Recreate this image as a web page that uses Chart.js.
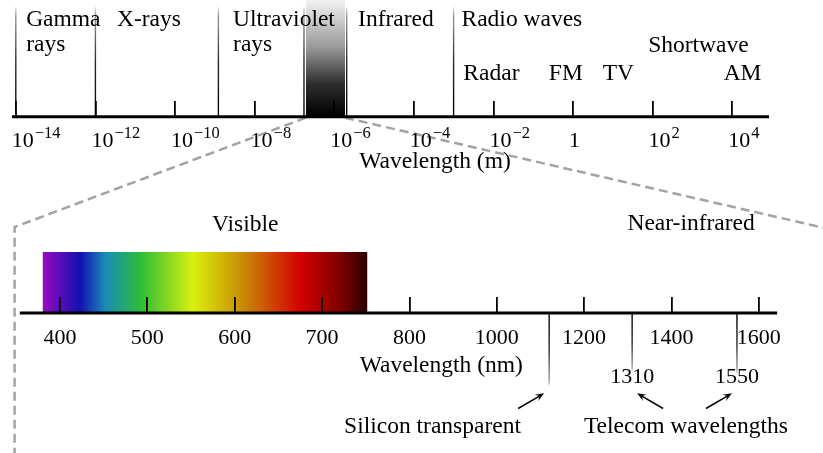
<!DOCTYPE html>
<html>
<head>
<meta charset="utf-8">
<script src="https://cdn.jsdelivr.net/npm/chart.js@4.4.0/dist/chart.umd.min.js"></script>
<style>
  html, body { margin: 0; padding: 0; background: #fff; }
  canvas { display: block; }
</style>
</head>
<body>
<canvas id="spectrum" width="823" height="453"></canvas>
<script>
// --- upper axis: wavelength in metres (log) ---
var topTickExp = [-14, -12, -10, -8, -6, -4, -2, 0, 2, 4];
var topAxisRange = [8.0e-15, 8.4e4];
var regionBounds = [1e-14, 1e-12, 1.23e-9, 1e-3];
var bandEdges = [1.74e-7, 2.06e-6];      // window that is blown up below
var bandFill = [1.95e-7, 1.87e-6];
var regionNames = [["Gamma", "rays"], ["X-rays"], ["Ultraviolet", "rays"], ["Infrared"], ["Radio waves"]];
var regionLabelAt = [1.82e-14, 3.47e-12, 2.88e-9, 3.98e-6, 1.58e-3];
var radioNames = ["Radar", "FM", "TV", "Shortwave", "AM"];
var radioLabelAt = [8.9e-3, 0.66, 13.8, 1413, 1.82e4];

// --- lower axis: wavelength in nm (400-800 step 100, then step 200) ---
var nmTicks = [400, 500, 600, 700, 800, 1000, 1200, 1400, 1600];
var nmAxisRange = [354, 1642];
var spectrumNm = [380, 423, 452, 492, 552, 575, 610, 675, 720, 752];
var spectrumColors = ['#9a0ac0', '#1210b0', '#1a8cb8', '#2cbc38', '#d8f010', '#d4c808', '#c88a08', '#d40000', '#800000', '#2a0000'];
var markerNm = [1120, 1310, 1550];
var markerText = ["", "1310", "1550"];
var zoomCornerNm = [348, 1900];

// layout (pixels on the hidden y scale)
var TOP_Y = 116.7, BOT_Y = 313, LINE_TOP = 6, BAND_TOP = 0, SPEC_TOP = 252;
var markerEnd = [386, 372, 374];
var arrowSide = [-1, 1, -1];
var zoomCornerY = [227, 243];
var FONT = '"Liberation Serif", "DejaVu Serif", serif';
var WORD = 23.5, NUM = 22;

function nmToU(nm) {
  return nm <= 800 ? (nm - 400) / 100 : 4 + (nm - 800) / 200;
}

function ready(chart) {
  return chart.chartArea && chart.scales.y && isFinite(chart.scales.y.getPixelForValue(TOP_Y));
}

function fadeDown(c, yFrom, yTo) {
  var chart = c.chart;
  if (!ready(chart)) return '#000';
  var sy = chart.scales.y;
  var g = chart.ctx.createLinearGradient(0, sy.getPixelForValue(yFrom), 0, sy.getPixelForValue(yTo));
  g.addColorStop(0, '#000');
  g.addColorStop(0.5, '#2a2a2a');
  g.addColorStop(0.85, '#8a8a8a');
  g.addColorStop(1, 'rgba(0,0,0,0)');
  return g;
}

function bandGradient(c) {
  var chart = c.chart;
  if (!ready(chart)) return '#888';
  var sy = chart.scales.y;
  var g = chart.ctx.createLinearGradient(0, sy.getPixelForValue(BAND_TOP), 0, sy.getPixelForValue(TOP_Y));
  g.addColorStop(0, '#f2f2f2');
  g.addColorStop(0.4, '#9a9a9a');
  g.addColorStop(0.72, '#2e2e2e');
  g.addColorStop(1, '#000');
  return g;
}

function spectrumGradient(c) {
  var chart = c.chart, sx = chart.scales.xBot;
  if (!ready(chart) || !sx) return '#888';
  var x0 = sx.getPixelForValue(nmToU(spectrumNm[0]));
  var x1 = sx.getPixelForValue(nmToU(spectrumNm[spectrumNm.length - 1]));
  if (!isFinite(x0) || !isFinite(x1) || x1 === x0) return '#888';
  var g = chart.ctx.createLinearGradient(x0, 0, x1, 0);
  spectrumNm.forEach(function (nm, i) {
    g.addColorStop((sx.getPixelForValue(nmToU(nm)) - x0) / (x1 - x0), spectrumColors[i]);
  });
  return g;
}

var datasets = [];

datasets.push({
  xAxisID: 'xTop', yAxisID: 'y', order: 9,
  data: [{x: bandFill[0], y: BAND_TOP}, {x: bandFill[1], y: BAND_TOP}],
  showLine: true, pointRadius: 0, borderWidth: 1, borderColor: 'rgba(0,0,0,0)',
  fill: {value: TOP_Y}, backgroundColor: bandGradient
});

datasets.push({
  xAxisID: 'xBot', yAxisID: 'y', order: 9,
  data: [{x: nmToU(spectrumNm[0]), y: SPEC_TOP}, {x: nmToU(spectrumNm[spectrumNm.length - 1]), y: SPEC_TOP}],
  showLine: true, pointRadius: 0, borderWidth: 1, borderColor: 'rgba(0,0,0,0)',
  fill: {value: BOT_Y}, backgroundColor: spectrumGradient
});

regionBounds.concat(bandEdges).forEach(function (v) {
  datasets.push({
    xAxisID: 'xTop', yAxisID: 'y', order: 3,
    data: [{x: v, y: TOP_Y}, {x: v, y: LINE_TOP}],
    showLine: true, pointRadius: 0, borderWidth: 1.4,
    borderColor: function (c) { return fadeDown(c, TOP_Y, LINE_TOP); }
  });
});

markerNm.forEach(function (nm, i) {
  datasets.push({
    xAxisID: 'xBot', yAxisID: 'y', order: 3,
    data: [{x: nmToU(nm), y: BOT_Y}, {x: nmToU(nm), y: markerEnd[i]}],
    showLine: true, pointRadius: 0, borderWidth: 1.4,
    borderColor: function (c) { return fadeDown(c, BOT_Y, markerEnd[i]); }
  });
});

datasets.push({
  xAxisID: 'xTop', yAxisID: 'y', order: 0,
  data: [{x: topAxisRange[0], y: TOP_Y}, {x: topAxisRange[1], y: TOP_Y}],
  showLine: true, pointRadius: 0, borderWidth: 3, borderColor: '#000'
});
datasets.push({
  xAxisID: 'xBot', yAxisID: 'y', order: 0,
  data: [{x: nmToU(nmAxisRange[0]), y: BOT_Y}, {x: nmToU(nmAxisRange[1]), y: BOT_Y}],
  showLine: true, pointRadius: 0, borderWidth: 3, borderColor: '#000'
});

function text(ctx, s, x, y, size, align) {
  ctx.font = size + 'px ' + FONT;
  ctx.textAlign = align || 'center';
  ctx.textBaseline = 'alphabetic';
  ctx.fillText(s, x, y);
}

function powerLabel(ctx, e, x, y) {
  ctx.fillStyle = '#000';
  if (e === 0) { text(ctx, '1', x, y, NUM, 'left'); return; }
  text(ctx, '10', x, y, NUM, 'left');
  var w = ctx.measureText('10').width;
  var exp = e < 0 ? '\u2212' + Math.abs(e) : String(e);
  text(ctx, exp, x + w + 1, y - 8.4, 16.5, 'left');
}

function arrow(ctx, x1, y1, x2, y2) {
  var a = Math.atan2(y2 - y1, x2 - x1), L = 9, W = 3.6;
  ctx.beginPath();
  ctx.moveTo(x1, y1);
  ctx.lineTo(x2 - Math.cos(a) * 5, y2 - Math.sin(a) * 5);
  ctx.lineWidth = 1.5;
  ctx.strokeStyle = '#000';
  ctx.stroke();
  ctx.beginPath();
  ctx.moveTo(x2, y2);
  ctx.lineTo(x2 - L * Math.cos(a) + W * Math.sin(a), y2 - L * Math.sin(a) - W * Math.cos(a));
  ctx.lineTo(x2 - 0.6 * L * Math.cos(a), y2 - 0.6 * L * Math.sin(a));
  ctx.lineTo(x2 - L * Math.cos(a) - W * Math.sin(a), y2 - L * Math.sin(a) + W * Math.cos(a));
  ctx.closePath();
  ctx.fillStyle = '#000';
  ctx.fill();
}

var annotate = {
  id: 'annotate',
  beforeDatasetsDraw: function (chart) {
    var ctx = chart.ctx, st = chart.scales.xTop, sb = chart.scales.xBot;
    ctx.save();
    ctx.strokeStyle = '#a3a3a3';
    ctx.lineWidth = 2.5;
    ctx.setLineDash([9, 5]);
    [0, 1].forEach(function (i) {
      var cx = sb.getPixelForValue(nmToU(zoomCornerNm[i]));
      ctx.beginPath();
      ctx.moveTo(st.getPixelForValue(bandFill[i]), TOP_Y + 1);
      ctx.lineTo(cx, zoomCornerY[i]);
      ctx.lineTo(cx, 470);
      ctx.stroke();
    });
    ctx.restore();
  },
  afterDraw: function (chart) {
    var ctx = chart.ctx, st = chart.scales.xTop, sb = chart.scales.xBot;
    ctx.save();
    ctx.fillStyle = '#000';

    regionNames.forEach(function (lines, i) {
      var x = st.getPixelForValue(regionLabelAt[i]);
      lines.forEach(function (s, k) { text(ctx, s, x, 26 + k * 25, WORD, 'left'); });
    });
    radioNames.forEach(function (s, i) {
      text(ctx, s, st.getPixelForValue(radioLabelAt[i]), s === 'Shortwave' ? 52 : 80, WORD, 'center');
    });

    topTickExp.forEach(function (e) {
      powerLabel(ctx, e, st.getPixelForValue(Math.pow(10, e)) - 4, 146.7);
    });
    text(ctx, 'Wavelength (m)', st.getPixelForValue(3.41e-4), 168, WORD, 'center');

    nmTicks.forEach(function (nm) {
      text(ctx, String(nm), sb.getPixelForValue(nmToU(nm)), 344, NUM, 'center');
    });
    text(ctx, 'Wavelength (nm)', sb.getPixelForValue(nmToU(873)), 372, WORD, 'center');
    text(ctx, 'Visible', sb.getPixelForValue(nmToU(612)), 230.5, WORD, 'center');
    text(ctx, 'Near-infrared', sb.getPixelForValue(nmToU(1445)), 230, WORD, 'center');

    markerNm.forEach(function (nm, i) {
      var px = sb.getPixelForValue(nmToU(nm));
      if (markerText[i]) text(ctx, markerText[i], px, 383.3, NUM, 'center');
      var tipX = px + arrowSide[i] * 5;
      arrow(ctx, tipX + arrowSide[i] * 26, 408.5, tipX, 393.3);
    });
    ctx.fillStyle = '#000';
    text(ctx, 'Silicon transparent', sb.getPixelForValue(nmToU(853)), 433.3, WORD, 'center');
    text(ctx, 'Telecom wavelengths', sb.getPixelForValue(nmToU(1433)), 433.3, WORD, 'center');
    ctx.restore();
  }
};

function tickAxis(extra) {
  var base = {
    axis: 'x',
    display: true,
    border: {display: false},
    ticks: {display: false},
    grid: {drawOnChartArea: false, drawTicks: true, tickLength: -16, lineWidth: 1.8, color: '#000', z: 1}
  };
  return Object.assign(base, extra);
}

new Chart(document.getElementById('spectrum'), {
  type: 'scatter',
  data: {datasets: datasets},
  options: {
    responsive: false,
    animation: false,
    devicePixelRatio: 1,
    events: [],
    layout: {padding: 0},
    plugins: {legend: {display: false}, tooltip: {enabled: false}},
    scales: {
      y: {type: 'linear', min: 0, max: 453, reverse: true, display: false},
      xTop: tickAxis({
        type: 'logarithmic',
        min: Math.pow(10, -14.397),
        max: Math.pow(10, 6.281),
        position: {y: TOP_Y},
        afterBuildTicks: function (s) {
          s.ticks = topTickExp.map(function (e) { return {value: Math.pow(10, e)}; });
        }
      }),
      xBot: tickAxis({
        type: 'linear',
        min: -0.687,
        max: 8.735,
        position: {y: BOT_Y},
        afterBuildTicks: function (s) {
          s.ticks = nmTicks.map(function (nm) { return {value: nmToU(nm)}; });
        }
      })
    }
  },
  plugins: [annotate]
});
</script>
</body>
</html>
